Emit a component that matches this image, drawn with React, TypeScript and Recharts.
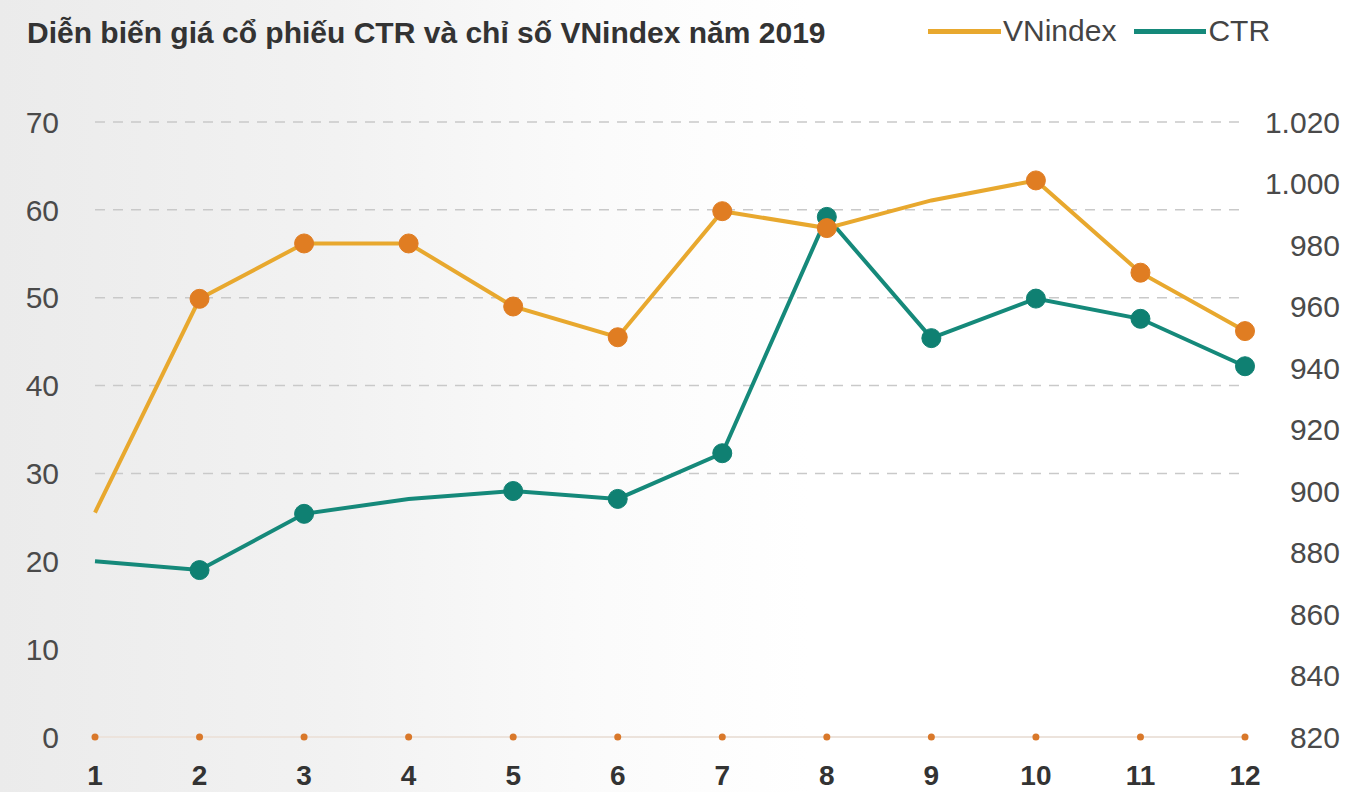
import React from 'react';
import { LineChart, Line, XAxis, YAxis, ReferenceLine } from 'recharts';

const months = [1, 2, 3, 4, 5, 6, 7, 8, 9, 10, 11, 12];
const ctr = [20, 19, 25.4, 27.1, 28, 27.1, 32.3, 59.2, 45.4, 49.9, 47.6, 42.2];
const vnindex = [893, 962.5, 980.5, 980.5, 960, 950, 991, 985.5, 994.5, 1001, 971, 952];
const zeroLine = [0, 0, 0, 0, 0, 0, 0, 0, 0, 0, 0, 0];

const leftTicks = [0, 10, 20, 30, 40, 50, 60, 70];
const rightTicks = [820, 840, 860, 880, 900, 920, 940, 960, 980, 1000, 1020];
const gridValues = [30, 40, 50, 60, 70];

// months where the series has no marker
const ctrNoMarker = [1, 4];
const vnNoMarker = [1, 9];

const data = months.map((m, i) => ({ month: m, ctr: ctr[i], vn: vnindex[i], zero: zeroLine[i] }));

const FONT = '"Liberation Sans", Arial, sans-serif';
const ORANGE_LINE = '#e8a82e';
const ORANGE_DOT = '#e07d22';
const TEAL_LINE = '#15897a';
const TEAL_DOT = '#0f8072';

const fmt = (v: number) => v.toLocaleString('de-DE');

const RightTick = (props: any) => {
  const { y, payload } = props;
  return (
    <text x={1340} y={y} textAnchor="end" dominantBaseline="central" fontSize={30} fill="#4a4a4a" fontFamily={FONT}>
      {fmt(payload.value)}
    </text>
  );
};

const makeDot = (skip: number[], fill: string) => (props: any) => {
  const { cx, cy, payload, index } = props;
  if (skip.includes(payload.month)) return <g key={index} />;
  return <circle key={index} cx={cx} cy={cy} r={9.5} fill={fill} stroke={fill} strokeWidth={1} />;
};

export default function App() {
  return (
    <div
      style={{
        position: 'absolute',
        left: 0,
        top: 0,
        width: 1348,
        height: 792,
        overflow: 'hidden',
        background: 'linear-gradient(to right, #ebebeb 0%, #f2f2f2 25%, #fbfbfb 45%, #ffffff 60%)',
        fontFamily: FONT,
      }}
    >
      <div style={{ position: 'absolute', left: 27, top: 18, fontSize: 30, lineHeight: '30px', fontWeight: 'bold', color: '#333', whiteSpace: 'nowrap' }}>
        Diễn biến giá cổ phiếu CTR và chỉ số VNindex năm 2019
      </div>
      <div style={{ position: 'absolute', left: 928, top: 16, display: 'flex', alignItems: 'center', fontSize: 30, lineHeight: '30px', color: '#444', whiteSpace: 'nowrap' }}>
        <span style={{ display: 'inline-block', width: 73, height: 5, background: ORANGE_LINE }} />
        <span style={{ marginLeft: 2 }}>VNindex</span>
        <span style={{ display: 'inline-block', width: 72, height: 5, background: TEAL_LINE, marginLeft: 18 }} />
        <span style={{ marginLeft: 2 }}>CTR</span>
      </div>
      <div style={{ position: 'absolute', left: 0, top: 0 }}>
        <LineChart width={1348} height={792} data={data} margin={{ top: 122, right: 0, left: 0, bottom: 0 }}>
          {gridValues.map((v) => (
            <ReferenceLine key={v} yAxisId="left" y={v} stroke="#c9c9c9" strokeWidth={1.5} strokeDasharray="10 8" />
          ))}
          <ReferenceLine yAxisId="left" y={0} stroke="#ece3dc" strokeWidth={2} />
          <XAxis
            dataKey="month"
            height={55}
            axisLine={false}
            tickLine={false}
            tickSize={0}
            tickMargin={28}
            interval={0}
            tick={{ fontSize: 28, fontWeight: 'bold', fill: '#333', fontFamily: FONT }}
          />
          <YAxis
            yAxisId="left"
            orientation="left"
            width={95}
            domain={[0, 70]}
            ticks={leftTicks}
            axisLine={false}
            tickLine={false}
            tickSize={0}
            tickMargin={36}
            tick={{ fontSize: 30, fill: '#4a4a4a', fontFamily: FONT }}
          />
          <YAxis
            yAxisId="right"
            orientation="right"
            width={103}
            domain={[820, 1020]}
            ticks={rightTicks}
            axisLine={false}
            tickLine={false}
            tick={<RightTick />}
          />
          <Line
            yAxisId="left"
            dataKey="zero"
            stroke="none"
            dot={{ r: 3.5, fill: '#d9782a', stroke: 'none' }}
            isAnimationActive={false}
          />
          <Line
            yAxisId="left"
            dataKey="ctr"
            stroke={TEAL_LINE}
            strokeWidth={4}
            dot={makeDot(ctrNoMarker, TEAL_DOT)}
            isAnimationActive={false}
          />
          <Line
            yAxisId="right"
            dataKey="vn"
            stroke={ORANGE_LINE}
            strokeWidth={4}
            dot={makeDot(vnNoMarker, ORANGE_DOT)}
            isAnimationActive={false}
          />
        </LineChart>
      </div>
    </div>
  );
}
